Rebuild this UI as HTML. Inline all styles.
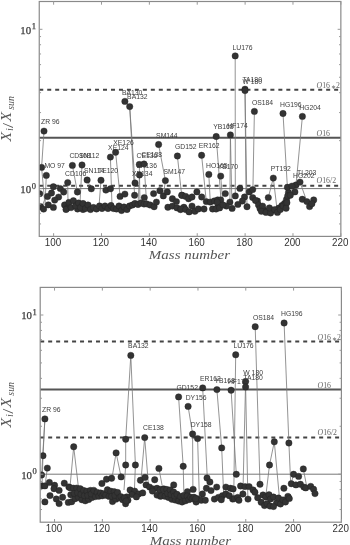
<!DOCTYPE html>
<html><head><meta charset="utf-8"><style>
html,body{margin:0;padding:0;background:#fff;}
svg{display:block;filter:blur(0.4px);}
circle{fill:#333;stroke:#222;stroke-width:0.4;}
.lb{font-family:"Liberation Sans",sans-serif;font-size:6.8px;fill:#3c3c3c;}
.ol{font-family:"Liberation Serif",serif;font-size:7.8px;fill:#666;}
.ast{font-size:5.5px;}
.tl{font-family:"Liberation Sans",sans-serif;font-size:10.4px;fill:#333;}
.dl{font-family:"Liberation Serif",serif;font-size:10.8px;fill:#3a3a3a;stroke:#3a3a3a;stroke-width:0.25px;}
.sup{font-size:8.5px;}
.xl{font-family:"Liberation Serif",serif;font-style:italic;font-size:13px;fill:#555;}
.yl{font-family:"Liberation Serif",serif;font-style:italic;font-size:14.5px;fill:#555;}
.ylu{font-family:"Liberation Serif",serif;font-size:15px;fill:#555;}
.sub{font-size:9px;}
.yls{font-family:"Liberation Serif",serif;font-style:italic;font-size:9.5px;fill:#555;}
</style></head>
<body><svg width="350" height="545" viewBox="0 0 350 545">
<line x1="39.25" y1="188.6" x2="340.85" y2="188.6" stroke="#777" stroke-width="1"/>
<line x1="39.25" y1="137.7" x2="340.85" y2="137.7" stroke="#555" stroke-width="2"/>
<line x1="39.25" y1="89.75" x2="340.85" y2="89.75" stroke="#444" stroke-width="2" stroke-dasharray="4 3.97"/>
<line x1="39.25" y1="185.65" x2="340.85" y2="185.65" stroke="#444" stroke-width="2" stroke-dasharray="4 3.97"/>
<clipPath id="clip_top"><rect x="39.25" y="1.5" width="301.6" height="234.9"/></clipPath>
<g clip-path="url(#clip_top)">
<polyline points="44,131.1 41.6,167.4 44.5,200 42,207" fill="none" stroke="#777" stroke-width="0.8"/>
<polyline points="46.3,175.4 45,205" fill="none" stroke="#777" stroke-width="0.8"/>
<polyline points="72.4,165.4 77.4,192" fill="none" stroke="#777" stroke-width="0.8"/>
<polyline points="82,165 80,203" fill="none" stroke="#777" stroke-width="0.8"/>
<polyline points="67.7,182.6 68,203" fill="none" stroke="#777" stroke-width="0.8"/>
<polyline points="87.1,180 91.3,188.8" fill="none" stroke="#777" stroke-width="0.8"/>
<polyline points="101,180.3 99,206" fill="none" stroke="#777" stroke-width="0.8"/>
<polyline points="110.4,157.1 112,206" fill="none" stroke="#777" stroke-width="0.8"/>
<polyline points="115.6,152.3 120.1,196.4" fill="none" stroke="#777" stroke-width="0.8"/>
<polyline points="124.9,101.4 129.7,106.6 135,183" fill="none" stroke="#777" stroke-width="0.8"/>
<polyline points="129.7,106.6 134.6,195.3" fill="none" stroke="#777" stroke-width="0.8"/>
<polyline points="139.3,164.5 140,203" fill="none" stroke="#777" stroke-width="0.8"/>
<polyline points="144,164 146.7,203.9" fill="none" stroke="#777" stroke-width="0.8"/>
<polyline points="139.5,175 138,204" fill="none" stroke="#777" stroke-width="0.8"/>
<polyline points="158.6,144.5 165.4,180.6 163.3,195.9" fill="none" stroke="#777" stroke-width="0.8"/>
<polyline points="177.4,156 181.7,195.3" fill="none" stroke="#777" stroke-width="0.8"/>
<polyline points="201.6,155.3 206.3,201.6" fill="none" stroke="#777" stroke-width="0.8"/>
<polyline points="208.8,174.4 210.3,202.1" fill="none" stroke="#777" stroke-width="0.8"/>
<polyline points="220.7,176.1 223,205" fill="none" stroke="#777" stroke-width="0.8"/>
<polyline points="216.2,136.5 221,200" fill="none" stroke="#777" stroke-width="0.8"/>
<polyline points="230.4,134.9 232,208" fill="none" stroke="#777" stroke-width="0.8"/>
<polyline points="230.4,134.9 229.9,202.1" fill="none" stroke="#777" stroke-width="0.8"/>
<polyline points="235.2,55.9 235.3,195.9" fill="none" stroke="#777" stroke-width="0.8"/>
<polyline points="245,89.9 246,197" fill="none" stroke="#777" stroke-width="0.8"/>
<polyline points="245,89.9 247,206.7" fill="none" stroke="#777" stroke-width="0.8"/>
<polyline points="254.4,111.4 252.9,190.1" fill="none" stroke="#777" stroke-width="0.8"/>
<polyline points="283,113.5 287.4,187.3" fill="none" stroke="#777" stroke-width="0.8"/>
<polyline points="302.4,116.4 296,185" fill="none" stroke="#777" stroke-width="0.8"/>
<polyline points="273.3,178.1 268.3,197.6" fill="none" stroke="#777" stroke-width="0.8"/>
<polyline points="273.3,178.1 277.4,212.4" fill="none" stroke="#777" stroke-width="0.8"/>
<polyline points="300,182.1 306.9,201.6" fill="none" stroke="#777" stroke-width="0.8"/>
<polyline points="296,185 294.9,191.9" fill="none" stroke="#777" stroke-width="0.8"/>
<circle cx="44" cy="131.1" r="3.2"/>
<circle cx="41.6" cy="167.4" r="3.2"/>
<circle cx="46.3" cy="175.4" r="3.2"/>
<circle cx="72.4" cy="165.4" r="3.2"/>
<circle cx="82" cy="165" r="3.2"/>
<circle cx="67.7" cy="182.6" r="3.2"/>
<circle cx="87.1" cy="180" r="3.2"/>
<circle cx="101" cy="180.3" r="3.2"/>
<circle cx="110.4" cy="157.1" r="3.2"/>
<circle cx="115.6" cy="152.3" r="3.2"/>
<circle cx="124.9" cy="101.4" r="3.2"/>
<circle cx="129.7" cy="106.6" r="3.2"/>
<circle cx="139.3" cy="164.5" r="3.2"/>
<circle cx="144" cy="164" r="3.2"/>
<circle cx="139.5" cy="175" r="3.2"/>
<circle cx="135" cy="183" r="3.2"/>
<circle cx="158.6" cy="144.5" r="3.2"/>
<circle cx="165.4" cy="180.6" r="3.2"/>
<circle cx="177.4" cy="156" r="3.2"/>
<circle cx="201.6" cy="155.3" r="3.2"/>
<circle cx="208.8" cy="174.4" r="3.2"/>
<circle cx="220.7" cy="176.1" r="3.2"/>
<circle cx="216.2" cy="136.5" r="3.2"/>
<circle cx="230.4" cy="134.9" r="3.2"/>
<circle cx="235.2" cy="55.9" r="3.2"/>
<circle cx="245" cy="89.2" r="3.2"/>
<circle cx="245" cy="90.6" r="3.2"/>
<circle cx="254.4" cy="111.4" r="3.2"/>
<circle cx="283" cy="113.5" r="3.2"/>
<circle cx="302.4" cy="116.4" r="3.2"/>
<circle cx="273.3" cy="178.1" r="3.2"/>
<circle cx="296" cy="185" r="3.2"/>
<circle cx="300" cy="182.1" r="3.2"/>
<circle cx="39.7" cy="193.7" r="3.2"/>
<circle cx="47.5" cy="196.5" r="3.2"/>
<circle cx="51.5" cy="193" r="3.2"/>
<circle cx="53.4" cy="186.7" r="3.2"/>
<circle cx="60.3" cy="188.6" r="3.2"/>
<circle cx="63.7" cy="192" r="3.2"/>
<circle cx="58.6" cy="197.1" r="3.2"/>
<circle cx="54.7" cy="200.1" r="3.2"/>
<circle cx="40.6" cy="206.6" r="3.2"/>
<circle cx="43.6" cy="209.1" r="3.2"/>
<circle cx="48.3" cy="204.9" r="3.2"/>
<circle cx="53.4" cy="207.4" r="3.2"/>
<circle cx="64.6" cy="204.9" r="3.2"/>
<circle cx="67.1" cy="208.3" r="3.2"/>
<circle cx="66" cy="209.5" r="3.2"/>
<circle cx="77.5" cy="209" r="3.2"/>
<circle cx="83" cy="209.5" r="3.2"/>
<circle cx="68.9" cy="202.4" r="3.2"/>
<circle cx="71.1" cy="207.6" r="3.2"/>
<circle cx="73.4" cy="200.7" r="3.2"/>
<circle cx="75.7" cy="205.9" r="3.2"/>
<circle cx="77.4" cy="192" r="3.2"/>
<circle cx="91.3" cy="188.8" r="3.2"/>
<circle cx="105.9" cy="190.1" r="3.2"/>
<circle cx="110.5" cy="188.7" r="3.2"/>
<circle cx="78.5" cy="203" r="3.2"/>
<circle cx="80.5" cy="207.5" r="3.2"/>
<circle cx="83" cy="203.5" r="3.2"/>
<circle cx="85.5" cy="208.5" r="3.2"/>
<circle cx="88" cy="205" r="3.2"/>
<circle cx="90.5" cy="209.5" r="3.2"/>
<circle cx="93.5" cy="207.5" r="3.2"/>
<circle cx="96.5" cy="209" r="3.2"/>
<circle cx="99.5" cy="206" r="3.2"/>
<circle cx="102" cy="208.5" r="3.2"/>
<circle cx="105" cy="206" r="3.2"/>
<circle cx="108" cy="208.5" r="3.2"/>
<circle cx="111" cy="205.5" r="3.2"/>
<circle cx="113.5" cy="208.5" r="3.2"/>
<circle cx="120.1" cy="196.4" r="3.2"/>
<circle cx="124.9" cy="194.1" r="3.2"/>
<circle cx="134.6" cy="195.3" r="3.2"/>
<circle cx="144.3" cy="197.6" r="3.2"/>
<circle cx="116.5" cy="209" r="3.2"/>
<circle cx="119" cy="206" r="3.2"/>
<circle cx="121.5" cy="210.5" r="3.2"/>
<circle cx="124" cy="207" r="3.2"/>
<circle cx="127" cy="209.5" r="3.2"/>
<circle cx="129.5" cy="206" r="3.2"/>
<circle cx="132.5" cy="205" r="3.2"/>
<circle cx="135" cy="203.5" r="3.2"/>
<circle cx="138" cy="204.5" r="3.2"/>
<circle cx="141" cy="203" r="3.2"/>
<circle cx="144" cy="204" r="3.2"/>
<circle cx="153.6" cy="193.6" r="3.2"/>
<circle cx="159.9" cy="190.7" r="3.2"/>
<circle cx="163.3" cy="195.9" r="3.2"/>
<circle cx="167.3" cy="191.9" r="3.2"/>
<circle cx="146.7" cy="203.9" r="3.2"/>
<circle cx="150.1" cy="205" r="3.2"/>
<circle cx="154.1" cy="206.7" r="3.2"/>
<circle cx="156.4" cy="202.1" r="3.2"/>
<circle cx="172.4" cy="198.7" r="3.2"/>
<circle cx="176.4" cy="201.6" r="3.2"/>
<circle cx="182.1" cy="195.3" r="3.2"/>
<circle cx="167.9" cy="207.3" r="3.2"/>
<circle cx="172.4" cy="206.1" r="3.2"/>
<circle cx="177" cy="207.9" r="3.2"/>
<circle cx="180.4" cy="209.6" r="3.2"/>
<circle cx="183.9" cy="207.3" r="3.2"/>
<circle cx="196.9" cy="191.9" r="3.2"/>
<circle cx="201.7" cy="197" r="3.2"/>
<circle cx="181.7" cy="195.3" r="3.2"/>
<circle cx="185.7" cy="196.4" r="3.2"/>
<circle cx="188.6" cy="198.7" r="3.2"/>
<circle cx="192" cy="197" r="3.2"/>
<circle cx="181.1" cy="209" r="3.2"/>
<circle cx="185.7" cy="209.6" r="3.2"/>
<circle cx="189.1" cy="211.9" r="3.2"/>
<circle cx="192" cy="206.1" r="3.2"/>
<circle cx="194.9" cy="211.3" r="3.2"/>
<circle cx="198.3" cy="209" r="3.2"/>
<circle cx="204" cy="209" r="3.2"/>
<circle cx="206.3" cy="201.6" r="3.2"/>
<circle cx="210.3" cy="202.1" r="3.2"/>
<circle cx="214.3" cy="201" r="3.2"/>
<circle cx="217.7" cy="199.9" r="3.2"/>
<circle cx="212.6" cy="209" r="3.2"/>
<circle cx="217.7" cy="207.3" r="3.2"/>
<circle cx="239.9" cy="188.4" r="3.2"/>
<circle cx="225.3" cy="193.6" r="3.2"/>
<circle cx="235.3" cy="195.9" r="3.2"/>
<circle cx="244.5" cy="197" r="3.2"/>
<circle cx="249.3" cy="191.9" r="3.2"/>
<circle cx="252.7" cy="189.6" r="3.2"/>
<circle cx="252.7" cy="197.6" r="3.2"/>
<circle cx="247" cy="206.7" r="3.2"/>
<circle cx="242.4" cy="201" r="3.2"/>
<circle cx="237.9" cy="204.4" r="3.2"/>
<circle cx="232.1" cy="208.4" r="3.2"/>
<circle cx="229.9" cy="202.1" r="3.2"/>
<circle cx="226.4" cy="206.1" r="3.2"/>
<circle cx="220.7" cy="199.9" r="3.2"/>
<circle cx="217.3" cy="202.1" r="3.2"/>
<circle cx="216.1" cy="209" r="3.2"/>
<circle cx="219.6" cy="207.9" r="3.2"/>
<circle cx="223" cy="205" r="3.2"/>
<circle cx="257.4" cy="201" r="3.2"/>
<circle cx="268.3" cy="197.6" r="3.2"/>
<circle cx="255.5" cy="200.5" r="3.2"/>
<circle cx="258.5" cy="205" r="3.2"/>
<circle cx="260" cy="208.5" r="3.2"/>
<circle cx="263.5" cy="210" r="3.2"/>
<circle cx="267.5" cy="211" r="3.2"/>
<circle cx="272" cy="210.5" r="3.2"/>
<circle cx="276" cy="210" r="3.2"/>
<circle cx="279" cy="208" r="3.2"/>
<circle cx="282" cy="205.5" r="3.2"/>
<circle cx="284.5" cy="203.5" r="3.2"/>
<circle cx="286.5" cy="199.5" r="3.2"/>
<circle cx="288.5" cy="192.5" r="3.2"/>
<circle cx="262.6" cy="206.1" r="3.2"/>
<circle cx="261.4" cy="211.3" r="3.2"/>
<circle cx="266" cy="212.4" r="3.2"/>
<circle cx="270.6" cy="213" r="3.2"/>
<circle cx="269.4" cy="207.9" r="3.2"/>
<circle cx="274.6" cy="209.6" r="3.2"/>
<circle cx="277.4" cy="212.4" r="3.2"/>
<circle cx="280.3" cy="209.6" r="3.2"/>
<circle cx="283.1" cy="206.1" r="3.2"/>
<circle cx="286" cy="203.3" r="3.2"/>
<circle cx="287.7" cy="195.9" r="3.2"/>
<circle cx="287.4" cy="187.3" r="3.2"/>
<circle cx="292" cy="186.1" r="3.2"/>
<circle cx="294.9" cy="191.9" r="3.2"/>
<circle cx="290.3" cy="195.3" r="3.2"/>
<circle cx="302.3" cy="199.3" r="3.2"/>
<circle cx="306.9" cy="201.6" r="3.2"/>
<circle cx="313.7" cy="199.9" r="3.2"/>
<circle cx="309.6" cy="206.6" r="3.2"/>
<circle cx="311.9" cy="203.7" r="3.2"/>
<circle cx="286.9" cy="202.7" r="3.2"/>
<circle cx="286.1" cy="208.3" r="3.2"/>
</g>
<text class="lb" x="41.1" y="124.1">ZR 96</text>
<text class="lb" x="44.4" y="168">MO 97</text>
<text class="lb" x="69.4" y="158.3">CD108</text>
<text class="lb" x="79" y="158.3">SN112</text>
<text class="lb" x="65.1" y="175.9">CD106</text>
<text class="lb" x="84" y="173.3">SN114</text>
<text class="lb" x="98" y="173.3">TE120</text>
<text class="lb" x="108.1" y="150">XE124</text>
<text class="lb" x="113.3" y="144.9">XE126</text>
<text class="lb" x="121.9" y="94.6">BA130</text>
<text class="lb" x="127.1" y="99.4">BA132</text>
<text class="lb" x="136.5" y="157.8">CE136</text>
<text class="lb" x="141.3" y="157.3">CE138</text>
<text class="lb" x="136.5" y="168">BA136</text>
<text class="lb" x="132" y="175.8">XE134</text>
<text class="lb" x="156.1" y="137.6">SM144</text>
<text class="lb" x="163.5" y="173.7">SM147</text>
<text class="lb" x="175" y="149.4">GD152</text>
<text class="lb" x="198.7" y="148.2">ER162</text>
<text class="lb" x="206.1" y="167.6">HO165</text>
<text class="lb" x="217.7" y="169.1">YB170</text>
<text class="lb" x="213.2" y="129.3">YB168</text>
<text class="lb" x="227.3" y="128.3">HF174</text>
<text class="lb" x="232.5" y="49.5">LU176</text>
<text class="lb" x="242.4" y="81.5">TA180</text>
<text class="lb" x="242.4" y="84.4">W 180</text>
<text class="lb" x="251.9" y="105.2">OS184</text>
<text class="lb" x="280.1" y="106.7">HG196</text>
<text class="lb" x="299.3" y="109.6">HG204</text>
<text class="lb" x="270.8" y="171.2">PT192</text>
<text class="lb" x="293" y="178">HG202</text>
<text class="lb" x="297" y="175.1">TL203</text>
<text class="ol" x="316.55" y="88.25"><tspan font-style="italic">O</tspan>16<tspan class="ast" dx="0.6" dy="0.6">∗</tspan><tspan dx="0.4" dy="-0.6">2</tspan></text>
<text class="ol" x="316.55" y="136.1"><tspan font-style="italic">O</tspan>16</text>
<text class="ol" x="316.55" y="182.95"><tspan font-style="italic">O</tspan>16/2</text>
<rect x="39.25" y="1.5" width="301.6" height="234.9" fill="none" stroke="#8a8a8a" stroke-width="1.2"/>
<path d="M53.61,236.4v-3.2M53.61,1.5v3.2M101.49,236.4v-3.2M101.49,1.5v3.2M149.36,236.4v-3.2M149.36,1.5v3.2M197.23,236.4v-3.2M197.23,1.5v3.2M245.11,236.4v-3.2M245.11,1.5v3.2M292.98,236.4v-3.2M292.98,1.5v3.2M340.86,236.4v-3.2M340.86,1.5v3.2M39.25,188.6h3.2M340.85,188.6h-3.2M39.25,29.3h3.2M340.85,29.3h-3.2M39.25,223.94h1.8M340.85,223.94h-1.8M39.25,213.28h1.8M340.85,213.28h-1.8M39.25,204.04h1.8M340.85,204.04h-1.8M39.25,195.89h1.8M340.85,195.89h-1.8M39.25,140.65h1.8M340.85,140.65h-1.8M39.25,112.59h1.8M340.85,112.59h-1.8M39.25,92.69h1.8M340.85,92.69h-1.8M39.25,77.25h1.8M340.85,77.25h-1.8M39.25,64.64h1.8M340.85,64.64h-1.8M39.25,53.98h1.8M340.85,53.98h-1.8M39.25,44.74h1.8M340.85,44.74h-1.8M39.25,36.59h1.8M340.85,36.59h-1.8" stroke="#999" stroke-width="1" fill="none"/>
<text class="tl" x="53.01" y="246.1" text-anchor="middle" textLength="16.4" lengthAdjust="spacingAndGlyphs">100</text>
<text class="tl" x="100.89" y="246.1" text-anchor="middle" textLength="16.4" lengthAdjust="spacingAndGlyphs">120</text>
<text class="tl" x="148.76" y="246.1" text-anchor="middle" textLength="16.4" lengthAdjust="spacingAndGlyphs">140</text>
<text class="tl" x="196.63" y="246.1" text-anchor="middle" textLength="16.4" lengthAdjust="spacingAndGlyphs">160</text>
<text class="tl" x="244.51" y="246.1" text-anchor="middle" textLength="16.4" lengthAdjust="spacingAndGlyphs">180</text>
<text class="tl" x="292.38" y="246.1" text-anchor="middle" textLength="16.4" lengthAdjust="spacingAndGlyphs">200</text>
<text class="tl" x="340.26" y="246.1" text-anchor="middle" textLength="16.4" lengthAdjust="spacingAndGlyphs">220</text>
<text class="dl" x="20.25" y="192.9">10<tspan class="sup" dx="0.6" dy="-4.4">0</tspan></text>
<text class="dl" x="20.25" y="33.6">10<tspan class="sup" dx="0.6" dy="-4.4">1</tspan></text>
<text class="xl" x="148.85" y="259.1" textLength="81.2" lengthAdjust="spacingAndGlyphs">Mass number</text>
<text class="yl" transform="rotate(-90)" x="-141.6" y="10.6" textLength="9.6" lengthAdjust="spacingAndGlyphs">X</text>
<text class="yls" transform="rotate(-90)" x="-130.8" y="13.2" textLength="2.4" lengthAdjust="spacingAndGlyphs">i</text>
<text class="ylu" transform="rotate(-90)" x="-128" y="12.6" textLength="5" lengthAdjust="spacingAndGlyphs">/</text>
<text class="yl" transform="rotate(-90)" x="-121.6" y="10.6" textLength="9.6" lengthAdjust="spacingAndGlyphs">X</text>
<text class="yls" transform="rotate(-90)" x="-109.8" y="14.2" textLength="13.6" lengthAdjust="spacingAndGlyphs">sun</text>
<line x1="40.2" y1="474.2" x2="341.4" y2="474.2" stroke="#777" stroke-width="1"/>
<line x1="40.2" y1="389.49" x2="341.4" y2="389.49" stroke="#555" stroke-width="2"/>
<line x1="40.2" y1="341.56" x2="341.4" y2="341.56" stroke="#444" stroke-width="2" stroke-dasharray="4 3.97"/>
<line x1="40.2" y1="437.41" x2="341.4" y2="437.41" stroke="#444" stroke-width="2" stroke-dasharray="4 3.97"/>
<clipPath id="clip_bot"><rect x="40.2" y="287.4" width="301.2" height="234.8"/></clipPath>
<g clip-path="url(#clip_bot)">
<polyline points="44.9,418.9 43,455.7" fill="none" stroke="#777" stroke-width="0.8"/>
<polyline points="44.9,418.9 41.6,475" fill="none" stroke="#777" stroke-width="0.8"/>
<polyline points="47.3,468.1 45,486" fill="none" stroke="#777" stroke-width="0.8"/>
<polyline points="43,455.7 42,486" fill="none" stroke="#777" stroke-width="0.8"/>
<polyline points="73.7,446.8 70,487" fill="none" stroke="#777" stroke-width="0.8"/>
<polyline points="73.7,446.8 78.4,487.1" fill="none" stroke="#777" stroke-width="0.8"/>
<polyline points="116.1,452.9 112,478" fill="none" stroke="#777" stroke-width="0.8"/>
<polyline points="116.1,452.9 121.1,476.9" fill="none" stroke="#777" stroke-width="0.8"/>
<polyline points="125.7,439.3 130.8,355.4 135.4,465" fill="none" stroke="#777" stroke-width="0.8"/>
<polyline points="125.7,439.3 125.7,465" fill="none" stroke="#777" stroke-width="0.8"/>
<polyline points="125.7,465 124,490" fill="none" stroke="#777" stroke-width="0.8"/>
<polyline points="135.4,465 134.3,492.9" fill="none" stroke="#777" stroke-width="0.8"/>
<polyline points="144.7,437.6 140.7,483.6" fill="none" stroke="#777" stroke-width="0.8"/>
<polyline points="144.7,437.6 148.5,486" fill="none" stroke="#777" stroke-width="0.8"/>
<polyline points="158.9,468.4 163,490" fill="none" stroke="#777" stroke-width="0.8"/>
<polyline points="178.6,396.9 183.2,466.3" fill="none" stroke="#777" stroke-width="0.8"/>
<polyline points="188.1,406.4 192.6,434" fill="none" stroke="#777" stroke-width="0.8"/>
<polyline points="183.2,466.3 184,498" fill="none" stroke="#777" stroke-width="0.8"/>
<polyline points="192.6,434 192.9,489.3" fill="none" stroke="#777" stroke-width="0.8"/>
<polyline points="197.6,438.6 199.4,498.6" fill="none" stroke="#777" stroke-width="0.8"/>
<polyline points="202.7,387.9 207.3,477.9" fill="none" stroke="#777" stroke-width="0.8"/>
<polyline points="216.9,389.6 221.7,447.9" fill="none" stroke="#777" stroke-width="0.8"/>
<polyline points="221.7,447.9 223.7,495.7" fill="none" stroke="#777" stroke-width="0.8"/>
<polyline points="231.1,390.2 236.3,474.3" fill="none" stroke="#777" stroke-width="0.8"/>
<polyline points="235.7,354.8 233.7,500" fill="none" stroke="#777" stroke-width="0.8"/>
<polyline points="245.6,382 242.9,494.3" fill="none" stroke="#777" stroke-width="0.8"/>
<polyline points="245.6,385.6 247.9,499.3" fill="none" stroke="#777" stroke-width="0.8"/>
<polyline points="255.2,326.7 260,484" fill="none" stroke="#777" stroke-width="0.8"/>
<polyline points="274.3,441.8 269.5,465" fill="none" stroke="#777" stroke-width="0.8"/>
<polyline points="274.3,441.8 279.3,496.4" fill="none" stroke="#777" stroke-width="0.8"/>
<polyline points="284.1,323 288.9,443" fill="none" stroke="#777" stroke-width="0.8"/>
<polyline points="288.9,443 290.7,483.6" fill="none" stroke="#777" stroke-width="0.8"/>
<polyline points="269.5,465 265.7,497.1" fill="none" stroke="#777" stroke-width="0.8"/>
<polyline points="303.3,468.9 307,488" fill="none" stroke="#777" stroke-width="0.8"/>
<polyline points="293.6,474.3 291,484" fill="none" stroke="#777" stroke-width="0.8"/>
<circle cx="44.9" cy="418.9" r="3.2"/>
<circle cx="43" cy="455.7" r="3.2"/>
<circle cx="47.3" cy="468.1" r="3.2"/>
<circle cx="41.6" cy="475" r="3.2"/>
<circle cx="73.7" cy="446.8" r="3.2"/>
<circle cx="116.1" cy="452.9" r="3.2"/>
<circle cx="125.7" cy="439.3" r="3.2"/>
<circle cx="130.8" cy="355.4" r="3.2"/>
<circle cx="125.7" cy="465" r="3.2"/>
<circle cx="135.4" cy="465" r="3.2"/>
<circle cx="144.7" cy="437.6" r="3.2"/>
<circle cx="158.9" cy="468.4" r="3.2"/>
<circle cx="178.6" cy="396.9" r="3.2"/>
<circle cx="188.1" cy="406.4" r="3.2"/>
<circle cx="183.2" cy="466.3" r="3.2"/>
<circle cx="192.6" cy="434" r="3.2"/>
<circle cx="197.6" cy="438.6" r="3.2"/>
<circle cx="202.7" cy="387.9" r="3.2"/>
<circle cx="216.9" cy="389.6" r="3.2"/>
<circle cx="221.7" cy="447.9" r="3.2"/>
<circle cx="231.1" cy="390.2" r="3.2"/>
<circle cx="235.7" cy="354.8" r="3.2"/>
<circle cx="245.6" cy="381.4" r="3.2"/>
<circle cx="245.6" cy="387" r="3.2"/>
<circle cx="236.3" cy="474.3" r="3.2"/>
<circle cx="255.2" cy="326.7" r="3.2"/>
<circle cx="284.1" cy="323" r="3.2"/>
<circle cx="274.3" cy="441.8" r="3.2"/>
<circle cx="288.9" cy="443" r="3.2"/>
<circle cx="269.5" cy="465" r="3.2"/>
<circle cx="303.3" cy="468.9" r="3.2"/>
<circle cx="293.6" cy="474.3" r="3.2"/>
<circle cx="298.6" cy="476.4" r="3.2"/>
<circle cx="42" cy="485.9" r="3.2"/>
<circle cx="44.9" cy="485.9" r="3.2"/>
<circle cx="49.4" cy="482.4" r="3.2"/>
<circle cx="54.6" cy="485.3" r="3.2"/>
<circle cx="54" cy="488.7" r="3.2"/>
<circle cx="59.1" cy="490.4" r="3.2"/>
<circle cx="64.3" cy="483.2" r="3.2"/>
<circle cx="68.9" cy="487" r="3.2"/>
<circle cx="50" cy="495.6" r="3.2"/>
<circle cx="44.9" cy="501.9" r="3.2"/>
<circle cx="56.3" cy="499" r="3.2"/>
<circle cx="59.1" cy="503.6" r="3.2"/>
<circle cx="62.6" cy="497.3" r="3.2"/>
<circle cx="68.3" cy="502.4" r="3.2"/>
<circle cx="101.9" cy="483.5" r="3.2"/>
<circle cx="106.5" cy="479.2" r="3.2"/>
<circle cx="111.6" cy="478.3" r="3.2"/>
<circle cx="121.1" cy="476.9" r="3.2"/>
<circle cx="140.4" cy="480.3" r="3.2"/>
<circle cx="145" cy="477.4" r="3.2"/>
<circle cx="154.7" cy="479.7" r="3.2"/>
<circle cx="146.1" cy="484.9" r="3.2"/>
<circle cx="149.6" cy="487.1" r="3.2"/>
<circle cx="153" cy="488.9" r="3.2"/>
<circle cx="157" cy="488.3" r="3.2"/>
<circle cx="160.4" cy="489.4" r="3.2"/>
<circle cx="163.9" cy="488.9" r="3.2"/>
<circle cx="157" cy="495.1" r="3.2"/>
<circle cx="160.4" cy="496.3" r="3.2"/>
<circle cx="163.9" cy="495.7" r="3.2"/>
<circle cx="152.4" cy="491.1" r="3.2"/>
<circle cx="130.1" cy="490" r="3.2"/>
<circle cx="134.7" cy="491.1" r="3.2"/>
<circle cx="138.7" cy="494" r="3.2"/>
<circle cx="142.7" cy="492.9" r="3.2"/>
<circle cx="131.9" cy="494.6" r="3.2"/>
<circle cx="136.4" cy="496.9" r="3.2"/>
<circle cx="126.7" cy="496.9" r="3.2"/>
<circle cx="127.9" cy="500.3" r="3.2"/>
<circle cx="125.6" cy="503.7" r="3.2"/>
<circle cx="173.7" cy="484.9" r="3.2"/>
<circle cx="187.4" cy="491.7" r="3.2"/>
<circle cx="193.1" cy="489.4" r="3.2"/>
<circle cx="207" cy="478" r="3.2"/>
<circle cx="209.9" cy="482" r="3.2"/>
<circle cx="206.4" cy="488.3" r="3.2"/>
<circle cx="211" cy="490.6" r="3.2"/>
<circle cx="216.7" cy="487.1" r="3.2"/>
<circle cx="225.9" cy="487.1" r="3.2"/>
<circle cx="230.4" cy="488.3" r="3.2"/>
<circle cx="197.3" cy="498.6" r="3.2"/>
<circle cx="202.4" cy="494" r="3.2"/>
<circle cx="201.3" cy="500.3" r="3.2"/>
<circle cx="205.3" cy="500.3" r="3.2"/>
<circle cx="196.1" cy="502" r="3.2"/>
<circle cx="214.4" cy="499.1" r="3.2"/>
<circle cx="218.4" cy="497.4" r="3.2"/>
<circle cx="222.4" cy="495.7" r="3.2"/>
<circle cx="225.9" cy="494" r="3.2"/>
<circle cx="229.3" cy="495.7" r="3.2"/>
<circle cx="221.3" cy="499.7" r="3.2"/>
<circle cx="232.7" cy="499.1" r="3.2"/>
<circle cx="233.1" cy="488.9" r="3.2"/>
<circle cx="240.6" cy="486" r="3.2"/>
<circle cx="245.1" cy="486.6" r="3.2"/>
<circle cx="249.1" cy="486.6" r="3.2"/>
<circle cx="253.1" cy="490" r="3.2"/>
<circle cx="254.9" cy="492.3" r="3.2"/>
<circle cx="260" cy="484.3" r="3.2"/>
<circle cx="242.9" cy="494" r="3.2"/>
<circle cx="248" cy="499.1" r="3.2"/>
<circle cx="234.3" cy="498.6" r="3.2"/>
<circle cx="237.7" cy="497.4" r="3.2"/>
<circle cx="238.9" cy="500.3" r="3.2"/>
<circle cx="257.7" cy="497.7" r="3.2"/>
<circle cx="261.2" cy="502.3" r="3.2"/>
<circle cx="263" cy="495" r="3.2"/>
<circle cx="265.7" cy="497.1" r="3.2"/>
<circle cx="264.5" cy="505.5" r="3.2"/>
<circle cx="267.1" cy="503.8" r="3.2"/>
<circle cx="269" cy="494.8" r="3.2"/>
<circle cx="270.5" cy="499" r="3.2"/>
<circle cx="270" cy="506" r="3.2"/>
<circle cx="283.9" cy="488.3" r="3.2"/>
<circle cx="288.4" cy="497.4" r="3.2"/>
<circle cx="291.3" cy="483.7" r="3.2"/>
<circle cx="295.9" cy="484.9" r="3.2"/>
<circle cx="300.4" cy="484.3" r="3.2"/>
<circle cx="303.9" cy="487.1" r="3.2"/>
<circle cx="273.5" cy="497" r="3.2"/>
<circle cx="276.5" cy="503" r="3.2"/>
<circle cx="273.5" cy="506.5" r="3.2"/>
<circle cx="278.5" cy="498" r="3.2"/>
<circle cx="280.5" cy="504" r="3.2"/>
<circle cx="283" cy="500" r="3.2"/>
<circle cx="285.5" cy="502" r="3.2"/>
<circle cx="305.7" cy="487.9" r="3.2"/>
<circle cx="310.7" cy="486.4" r="3.2"/>
<circle cx="313.6" cy="489.3" r="3.2"/>
<circle cx="315" cy="493.6" r="3.2"/>
<circle cx="287.9" cy="496.4" r="3.2"/>
<circle cx="289.3" cy="498.6" r="3.2"/>
<circle cx="70" cy="487.7" r="3.2"/>
<circle cx="71.7" cy="501.7" r="3.2"/>
<circle cx="70.8" cy="494.7" r="3.2"/>
<circle cx="73.4" cy="488.18" r="3.2"/>
<circle cx="75.1" cy="498.68" r="3.2"/>
<circle cx="74.2" cy="493.43" r="3.2"/>
<circle cx="76.8" cy="488.08" r="3.2"/>
<circle cx="78.5" cy="497.44" r="3.2"/>
<circle cx="77.6" cy="492.76" r="3.2"/>
<circle cx="80.2" cy="488.74" r="3.2"/>
<circle cx="81.9" cy="499.74" r="3.2"/>
<circle cx="81" cy="494.24" r="3.2"/>
<circle cx="83.6" cy="490.46" r="3.2"/>
<circle cx="85.3" cy="500.82" r="3.2"/>
<circle cx="84.4" cy="495.64" r="3.2"/>
<circle cx="87" cy="491.2" r="3.2"/>
<circle cx="88.7" cy="499.5" r="3.2"/>
<circle cx="87.8" cy="495.35" r="3.2"/>
<circle cx="90.4" cy="490.44" r="3.2"/>
<circle cx="92.1" cy="497.46" r="3.2"/>
<circle cx="91.2" cy="493.95" r="3.2"/>
<circle cx="93.8" cy="490.34" r="3.2"/>
<circle cx="95.5" cy="496.55" r="3.2"/>
<circle cx="97.2" cy="492.34" r="3.2"/>
<circle cx="98.9" cy="496.18" r="3.2"/>
<circle cx="100.6" cy="493.02" r="3.2"/>
<circle cx="102.3" cy="495.79" r="3.2"/>
<circle cx="104" cy="493.7" r="3.2"/>
<circle cx="105.7" cy="495.2" r="3.2"/>
<circle cx="107.4" cy="489.77" r="3.2"/>
<circle cx="109.1" cy="496.4" r="3.2"/>
<circle cx="110.8" cy="491.22" r="3.2"/>
<circle cx="112.5" cy="501.5" r="3.2"/>
<circle cx="111.6" cy="496.36" r="3.2"/>
<circle cx="114.2" cy="491.61" r="3.2"/>
<circle cx="115.9" cy="499.17" r="3.2"/>
<circle cx="115" cy="495.39" r="3.2"/>
<circle cx="117.6" cy="492.5" r="3.2"/>
<circle cx="119.3" cy="497.68" r="3.2"/>
<circle cx="121" cy="496.7" r="3.2"/>
<circle cx="122.7" cy="499.73" r="3.2"/>
<circle cx="124.4" cy="497.93" r="3.2"/>
<circle cx="126.1" cy="501.03" r="3.2"/>
<circle cx="160" cy="489.9" r="3.2"/>
<circle cx="161.7" cy="495.8" r="3.2"/>
<circle cx="163.4" cy="489.49" r="3.2"/>
<circle cx="165.1" cy="496.21" r="3.2"/>
<circle cx="166.8" cy="489.52" r="3.2"/>
<circle cx="168.5" cy="497.44" r="3.2"/>
<circle cx="167.6" cy="493.48" r="3.2"/>
<circle cx="170.2" cy="490.01" r="3.2"/>
<circle cx="171.9" cy="499.34" r="3.2"/>
<circle cx="171" cy="494.68" r="3.2"/>
<circle cx="173.6" cy="491.92" r="3.2"/>
<circle cx="175.3" cy="500.09" r="3.2"/>
<circle cx="174.4" cy="496" r="3.2"/>
<circle cx="177" cy="494.3" r="3.2"/>
<circle cx="178.7" cy="501.08" r="3.2"/>
<circle cx="180.4" cy="496.56" r="3.2"/>
<circle cx="182.1" cy="501.96" r="3.2"/>
<circle cx="183.8" cy="495.41" r="3.2"/>
<circle cx="185.5" cy="500.81" r="3.2"/>
<circle cx="187.2" cy="496.01" r="3.2"/>
<circle cx="188.9" cy="499.65" r="3.2"/>
<circle cx="190.6" cy="497.3" r="3.2"/>
<circle cx="192.3" cy="498.7" r="3.2"/>
<circle cx="194" cy="497.3" r="3.2"/>
<circle cx="195.7" cy="498.7" r="3.2"/>
</g>
<text class="lb" x="42" y="412">ZR 96</text>
<text class="lb" x="128.1" y="348.3">BA132</text>
<text class="lb" x="143.1" y="430.4">CE138</text>
<text class="lb" x="176.4" y="390.2">GD152</text>
<text class="lb" x="185.7" y="400.2">DY156</text>
<text class="lb" x="190.7" y="427.3">DY158</text>
<text class="lb" x="200" y="380.9">ER162</text>
<text class="lb" x="214.5" y="383">YB168</text>
<text class="lb" x="227.9" y="384.4">HF174</text>
<text class="lb" x="233.5" y="348.4">LU176</text>
<text class="lb" x="243.3" y="375.2">W 180</text>
<text class="lb" x="243.3" y="380.3">TA180</text>
<text class="lb" x="252.9" y="319.9">OS184</text>
<text class="lb" x="281" y="315.8">HG196</text>
<text class="ol" x="317.5" y="340.06"><tspan font-style="italic">O</tspan>16<tspan class="ast" dx="0.6" dy="0.6">∗</tspan><tspan dx="0.4" dy="-0.6">2</tspan></text>
<text class="ol" x="317.5" y="387.89"><tspan font-style="italic">O</tspan>16</text>
<text class="ol" x="317.5" y="434.71"><tspan font-style="italic">O</tspan>16/2</text>
<rect x="40.2" y="287.4" width="301.2" height="234.8" fill="none" stroke="#8a8a8a" stroke-width="1.2"/>
<path d="M54.54,522.2v-3.2M54.54,287.4v3.2M102.35,522.2v-3.2M102.35,287.4v3.2M150.16,522.2v-3.2M150.16,287.4v3.2M197.97,522.2v-3.2M197.97,287.4v3.2M245.78,522.2v-3.2M245.78,287.4v3.2M293.59,522.2v-3.2M293.59,287.4v3.2M341.4,522.2v-3.2M341.4,287.4v3.2M40.2,474.2h3.2M341.4,474.2h-3.2M40.2,315h3.2M341.4,315h-3.2M40.2,509.52h1.8M341.4,509.52h-1.8M40.2,498.86h1.8M341.4,498.86h-1.8M40.2,489.63h1.8M341.4,489.63h-1.8M40.2,481.48h1.8M341.4,481.48h-1.8M40.2,426.28h1.8M341.4,426.28h-1.8M40.2,398.24h1.8M341.4,398.24h-1.8M40.2,378.35h1.8M341.4,378.35h-1.8M40.2,362.92h1.8M341.4,362.92h-1.8M40.2,350.32h1.8M341.4,350.32h-1.8M40.2,339.66h1.8M341.4,339.66h-1.8M40.2,330.43h1.8M341.4,330.43h-1.8M40.2,322.28h1.8M341.4,322.28h-1.8" stroke="#999" stroke-width="1" fill="none"/>
<text class="tl" x="53.94" y="531.8" text-anchor="middle" textLength="16.4" lengthAdjust="spacingAndGlyphs">100</text>
<text class="tl" x="101.75" y="531.8" text-anchor="middle" textLength="16.4" lengthAdjust="spacingAndGlyphs">120</text>
<text class="tl" x="149.56" y="531.8" text-anchor="middle" textLength="16.4" lengthAdjust="spacingAndGlyphs">140</text>
<text class="tl" x="197.37" y="531.8" text-anchor="middle" textLength="16.4" lengthAdjust="spacingAndGlyphs">160</text>
<text class="tl" x="245.18" y="531.8" text-anchor="middle" textLength="16.4" lengthAdjust="spacingAndGlyphs">180</text>
<text class="tl" x="292.99" y="531.8" text-anchor="middle" textLength="16.4" lengthAdjust="spacingAndGlyphs">200</text>
<text class="tl" x="340.8" y="531.8" text-anchor="middle" textLength="16.4" lengthAdjust="spacingAndGlyphs">220</text>
<text class="dl" x="21.2" y="478.5">10<tspan class="sup" dx="0.6" dy="-4.4">0</tspan></text>
<text class="dl" x="21.2" y="319.3">10<tspan class="sup" dx="0.6" dy="-4.4">1</tspan></text>
<text class="xl" x="149.8" y="545.1" textLength="81.2" lengthAdjust="spacingAndGlyphs">Mass number</text>
<text class="yl" transform="rotate(-90)" x="-427.45" y="10.6" textLength="9.6" lengthAdjust="spacingAndGlyphs">X</text>
<text class="yls" transform="rotate(-90)" x="-416.65" y="13.2" textLength="2.4" lengthAdjust="spacingAndGlyphs">i</text>
<text class="ylu" transform="rotate(-90)" x="-413.85" y="12.6" textLength="5" lengthAdjust="spacingAndGlyphs">/</text>
<text class="yl" transform="rotate(-90)" x="-407.45" y="10.6" textLength="9.6" lengthAdjust="spacingAndGlyphs">X</text>
<text class="yls" transform="rotate(-90)" x="-395.65" y="14.2" textLength="13.6" lengthAdjust="spacingAndGlyphs">sun</text>
</svg></body></html>
